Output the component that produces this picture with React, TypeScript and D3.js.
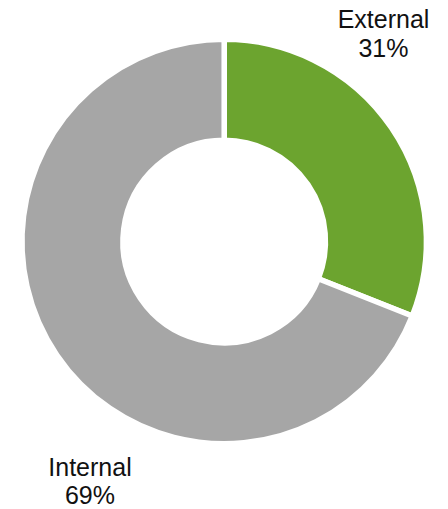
import React from "react";
import * as d3 from "d3";

const categories = ["External", "Internal"];
const values = [31, 69];
const labels = ["31%", "69%"];
const colors = ["#6CA42F", "#A6A6A6"];

const W = 448;
const H = 509;
const cx = 224.2;
const cy = 241.5;
const strokeW = 5.5;
const outerR = 199.5 + strokeW / 2;
const innerR = 104 - strokeW / 2;

export default function App() {
  const pie = d3.pie<number>().sort(null).value((d) => d)(values);
  const arc = d3.arc<d3.PieArcDatum<number>>().innerRadius(innerR).outerRadius(outerR);
  const labelPos = [
    { x: 383.5, y: 28.3 },
    { x: 90, y: 476 },
  ];
  return (
    <div style={{ position: "fixed", left: 0, top: 0 }}>
      <svg width={W} height={H} style={{ display: "block" }}>
        <rect width={W} height={H} fill="#fff" />
        <g transform={`translate(${cx},${cy})`}>
          {pie.map((p, i) => (
            <path key={i} d={arc(p) || ""} fill={colors[i]} stroke="#fff" strokeWidth={strokeW} strokeLinejoin="miter" />
          ))}
        </g>
        {categories.map((c, i) => (
          <text
            key={c}
            x={labelPos[i].x}
            y={labelPos[i].y}
            textAnchor="middle"
            fontFamily="'Liberation Sans', Arial, sans-serif"
            fontSize={25}
            fill="#111"
          >
            <tspan x={labelPos[i].x}>{c}</tspan>
            <tspan x={labelPos[i].x} dy={28.4}>{labels[i]}</tspan>
          </text>
        ))}
      </svg>
    </div>
  );
}
